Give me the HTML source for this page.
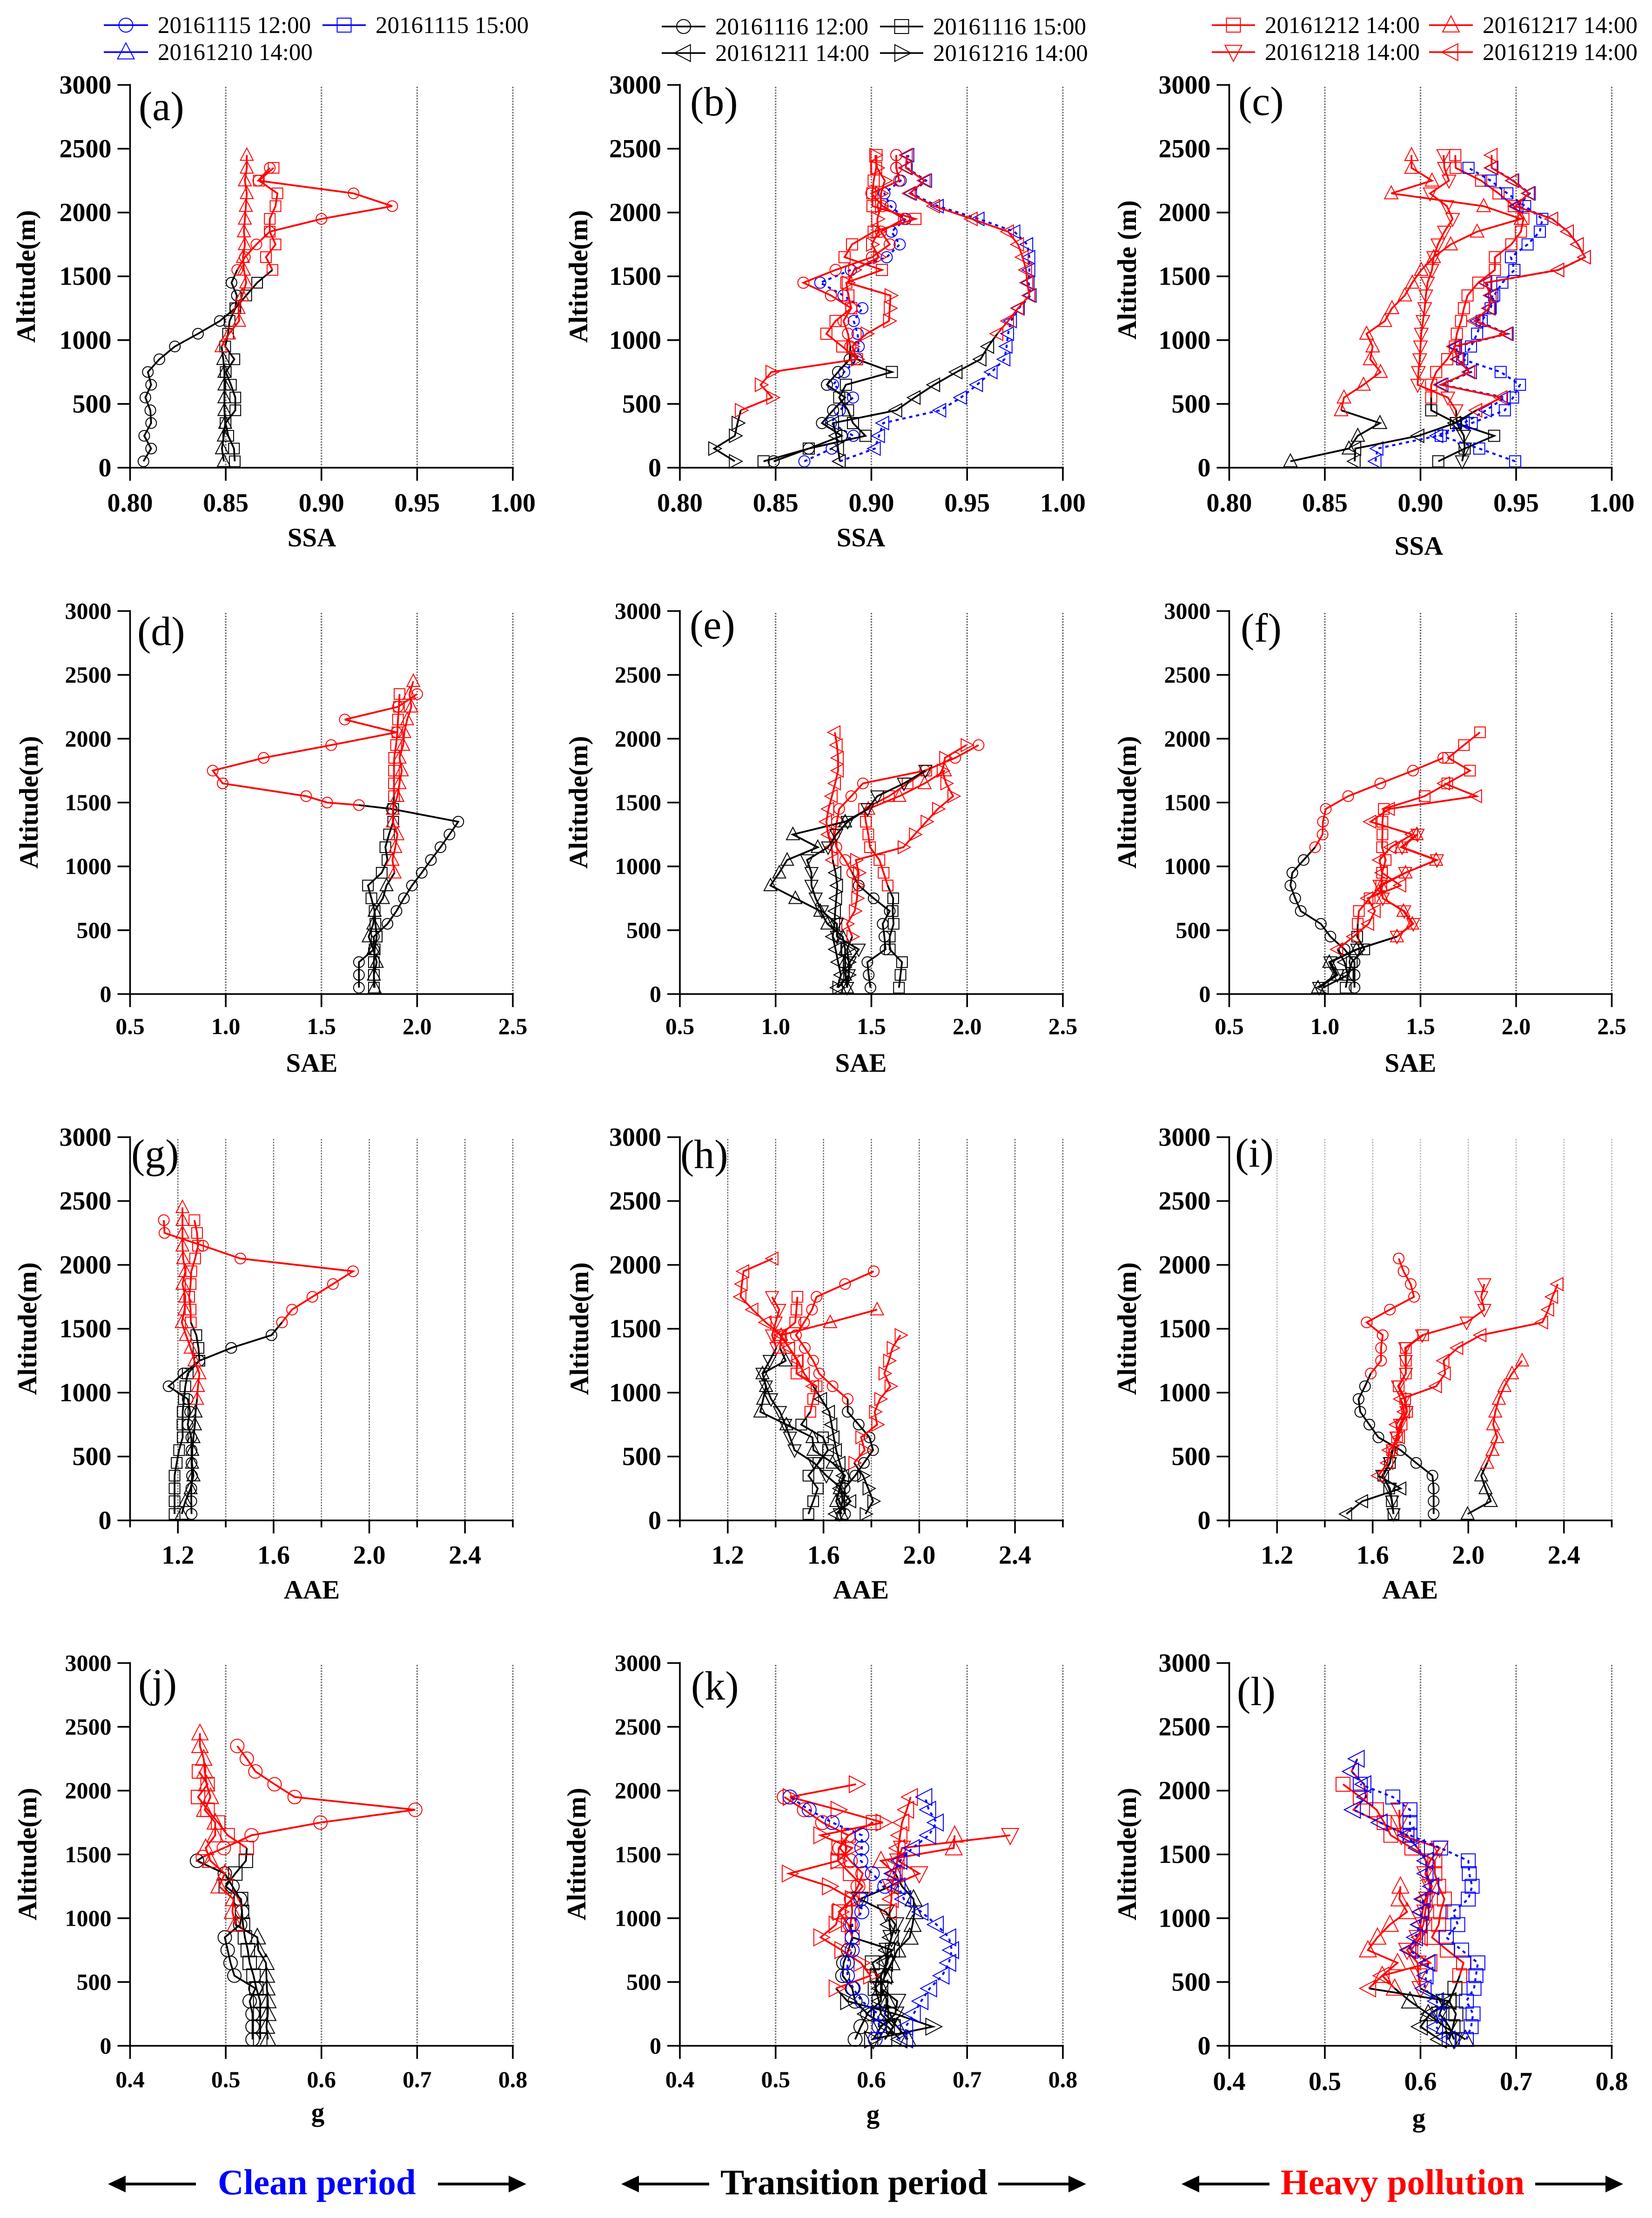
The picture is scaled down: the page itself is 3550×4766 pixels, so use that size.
<!DOCTYPE html>
<html lang="en">
<head>
<meta charset="utf-8">
<title>Vertical profiles of SSA, SAE, AAE and g</title>
<style>
html,body{margin:0;padding:0;background:#fff}
svg{display:block}
text{font-family:"Liberation Serif",serif}
.bold{font-weight:bold}
.leg{font-size:51px;fill:#000}
.ptitle{font-size:88px;fill:#000}
.atitle{font-size:57px;font-weight:bold;fill:#000}
.period{font-size:77px;font-weight:bold}
</style>
</head>
<body>
<svg id="figure" xmlns="http://www.w3.org/2000/svg" width="3550" height="4766" viewBox="0 0 3550 4766">
<rect x="0" y="0" width="3550" height="4766" fill="#fff"/>
<g id="plots"></g>

<g>
<text class="leg" x="339" y="71">20161115 12:00</text>
<text class="leg" x="807" y="71">20161115 15:00</text>
<text class="leg" x="339" y="129">20161210 14:00</text>
</g>
<g>
<text class="leg" x="1537" y="74">20161116 12:00</text>
<text class="leg" x="2005" y="74">20161116 15:00</text>
<text class="leg" x="1537" y="131">20161211 14:00</text>
<text class="leg" x="2005" y="131">20161216 14:00</text>
</g>
<g>
<text class="leg" x="2718" y="71">20161212 14:00</text>
<text class="leg" x="3186" y="71">20161217 14:00</text>
<text class="leg" x="2718" y="129">20161218 14:00</text>
<text class="leg" x="3186" y="129">20161219 14:00</text>
</g>

<g>
<text class="ptitle" x="298" y="258">(a)</text>
<text class="ptitle" x="1483" y="248">(b)</text>
<text class="ptitle" x="2661" y="247">(c)</text>
<text class="ptitle" x="295" y="1386">(d)</text>
<text class="ptitle" x="1482" y="1372">(e)</text>
<text class="ptitle" x="2666" y="1379">(f)</text>
<text class="ptitle" x="282" y="2509">(g)</text>
<text class="ptitle" x="1462" y="2510">(h)</text>
<text class="ptitle" x="2654" y="2507">(i)</text>
<text class="ptitle" x="297" y="3647">(j)</text>
<text class="ptitle" x="1485" y="3652">(k)</text>
<text class="ptitle" x="2658" y="3664">(l)</text>
</g>

<g>
<text class="atitle" text-anchor="middle" x="670" y="1174">SSA</text>
<text class="atitle" text-anchor="middle" x="1850" y="1174">SSA</text>
<text class="atitle" text-anchor="middle" x="3049" y="1192">SSA</text>
<text class="atitle" text-anchor="middle" x="670" y="2303">SAE</text>
<text class="atitle" text-anchor="middle" x="1850" y="2303">SAE</text>
<text class="atitle" text-anchor="middle" x="3031" y="2303">SAE</text>
<text class="atitle" text-anchor="middle" x="670" y="3435">AAE</text>
<text class="atitle" text-anchor="middle" x="1850" y="3435">AAE</text>
<text class="atitle" text-anchor="middle" x="3030" y="3435">AAE</text>
<text class="atitle" text-anchor="middle" x="683" y="4558">g</text>
<text class="atitle" text-anchor="middle" x="1876" y="4562">g</text>
<text class="atitle" text-anchor="middle" x="3049" y="4570">g</text>
</g>

<g>
<text class="atitle" text-anchor="middle" transform="translate(75 594) rotate(-90)">Altitude(m)</text>
<text class="atitle" text-anchor="middle" transform="translate(1262 594) rotate(-90)">Altitude(m)</text>
<text class="atitle" text-anchor="middle" transform="translate(2441 580) rotate(-90)">Altitude (m)</text>
<text class="atitle" text-anchor="middle" transform="translate(81 1724) rotate(-90)">Altitude(m)</text>
<text class="atitle" text-anchor="middle" transform="translate(1262 1724) rotate(-90)">Altitude(m)</text>
<text class="atitle" text-anchor="middle" transform="translate(2441 1724) rotate(-90)">Altitude(m)</text>
<text class="atitle" text-anchor="middle" transform="translate(78 2855) rotate(-90)">Altitude(m)</text>
<text class="atitle" text-anchor="middle" transform="translate(1264 2855) rotate(-90)">Altitude(m)</text>
<text class="atitle" text-anchor="middle" transform="translate(2441 2855) rotate(-90)">Altitude(m)</text>
<text class="atitle" text-anchor="middle" transform="translate(78 3984) rotate(-90)">Altitude(m)</text>
<text class="atitle" text-anchor="middle" transform="translate(1258 3984) rotate(-90)">Altitude(m)</text>
<text class="atitle" text-anchor="middle" transform="translate(2441 3984) rotate(-90)">Altitude(m)</text>
</g>

<g>
<text class="period" x="468" y="4715" fill="#0000ff">Clean period</text>
<path d="M421 4693H270" stroke="#000" stroke-width="6"/>
<path d="M232 4693L270 4675V4711Z" fill="#000"/>
<path d="M941 4693H1093" stroke="#000" stroke-width="6"/>
<path d="M1131 4693L1093 4675V4711Z" fill="#000"/>
</g>
<g>
<text class="period" x="1548" y="4715" fill="#000">Transition period</text>
<path d="M1524 4693H1373" stroke="#000" stroke-width="6"/>
<path d="M1335 4693L1373 4675V4711Z" fill="#000"/>
<path d="M2145 4693H2296" stroke="#000" stroke-width="6"/>
<path d="M2334 4693L2296 4675V4711Z" fill="#000"/>
</g>
<g>
<text class="period" x="2752" y="4715" fill="#ff0000">Heavy pollution</text>
<path d="M2728 4693H2577" stroke="#000" stroke-width="6"/>
<path d="M2539 4693L2577 4675V4711Z" fill="#000"/>
<path d="M3299 4693H3450" stroke="#000" stroke-width="6"/>
<path d="M3488 4693L3450 4675V4711Z" fill="#000"/>
</g>
<g id="legend-swatches"></g>
</svg>

<script>
// ---------- shared axis data ----------
const altitudes = [50,150,250,350,450,550,650,750,850,950,1050,1150,1250,1350,1450,1550,1650,1750,1850,1950,2050,2150,2250,2350,2450];
const yTicks = [0,500,1000,1500,2000,2500,3000];
const ssaTicks = [0.80,0.85,0.90,0.95,1.00];
const ssaLabels = ['0.80','0.85','0.90','0.95','1.00'];
const saeTicks = [0.5,1.0,1.5,2.0,2.5];
const saeLabels = ['0.5','1.0','1.5','2.0','2.5'];
const aaeTicks = [1.0,1.2,1.4,1.6,1.8,2.0,2.2,2.4,2.6];
const aaeLabels = ['','1.2','','1.6','','2.0','','2.4',''];
const gTicks = [0.4,0.5,0.6,0.7,0.8];
const gLabels = ['0.4','0.5','0.6','0.7','0.8'];

// ---------- panel a: SSA clean ----------
const aCircle = [.807,.811,.8074,.811,.8106,.808,.811,.8093,.8153,.8234,.8355,.8469,.855,.8558,.853,.856,.86,.866,.873,.9,.937,.9168,.867,.873];
const aSquare = [.8547,.8543,.8513,.8499,.855,.855,.8527,.85,.8545,.8497,.8512,.852,.855,.8607,.8664,.8744,.871,.876,.873,.873,.876,.877,.8673,.875];
const aUp = [.849,.848,.849,.8497,.8493,.8493,.8493,.8493,.8487,.8478,.8517,.857,.8567,.8586,.8607,.8595,.859,.86,.8595,.86,.8605,.861,.86,.861,.861];
// ---------- panel b: SSA transition ----------
const bCircle = [.849,.8673,.8845,.8742,.88,.8863,.8768,.8826,.8887,.889,.8878,.8854,.8895,.8789,.8645,.8813,.9003,.9096,.905,.917,.9059,.9,.9145,.913,.913];
const bCircleBlue = [.865,.8793,.8906,.8789,.8835,.8904,.88,.8858,.8925,.8934,.8928,.8908,.8953,.8854,.8733,.8893,.908,.9148,.9105,.918,.91,.9068,.9153,.913,.913];
const bSquare = [.8437,.8673,.8969,.8904,.8878,.8832,.8867,.9107,.8925,.8848,.8765,.8813,.8895,.888,.8869,.9055,.886,.8899,.9012,.923,.9006,.9005,.9012,.9025,.9027];
const bLeft = [.8835,.8826,.8817,.88,.913,.9226,.9328,.9445,.957,.961,.9658,.9714,.9766,.9825,.9814,.9808,.979,.9766,.9714,.9524,.9328,.92,.9278,.918,.9185];
const bLeftBlue = [.8835,.9018,.904,.9062,.936,.9468,.9552,.9628,.9695,.9706,.9714,.9729,.977,.9832,.9821,.9825,.9825,.9814,.9747,.956,.9347,.9207,.9286,.9185,.9193];
const bRight = [.8287,.8179,.8287,.8301,.8318,.8482,.8422,.8478,.8925,.89,.8975,.9092,.9096,.91,.8876,.891,.904,.9003,.9036,.9031,.905,.905,.907,.903,.902];
// ---------- panel c: SSA heavy ----------
const cSquare = [.9093,.9231,.9385,.9186,.9056,.9056,.9056,.9082,.914,.918,.919,.9212,.9227,.9246,.9302,.9389,.9389,.9475,.9525,.9538,.9488,.9408,.9317,.9184,.9182];
const cSquareBlue = [.9495,.9307,.9106,.9268,.9441,.9484,.952,.9419,.9218,.9264,.9296,.932,.9367,.9385,.9428,.9491,.9473,.956,.9624,.9637,.9547,.9454,.9367,.9251];
const cUp = [.832,.8626,.8672,.8788,.8585,.86,.8702,.8791,.8737,.875,.8718,.8814,.8851,.8918,.8957,.9004,.9069,.9158,.9296,.9525,.933,.8847,.906,.8953,.8953];
const cDown = [.9218,.9231,.9227,.919,.9186,.9143,.8985,.8989,.8996,.9,.9004,.9013,.9022,.9028,.9037,.906,.9069,.9091,.9125,.9168,.9138,.905,.9149,.9125,.9121];
const cLeft = [.8656,.8659,.8989,.9181,.9292,.9423,.9106,.9255,.9194,.9175,.9451,.9283,.9358,.9367,.9339,.9721,.986,.9823,.9771,.9689,.9497,.9566,.9482,.9372,.9372];
const cLeftBlue = [.8765,.8775,.9088,.9227,.9343,.9441,.9115,.9264,.92,.9186,.9456,.9298,.9363,.9376,.9344,.9721,.986,.9823,.9771,.9689,.9507,.9571,.9485,.9376];
// ---------- panel d: SAE clean ----------
const dCircle = [1.696,1.696,1.696,1.774,1.774,1.845,1.892,1.931,1.973,2.024,2.072,2.122,2.169,2.215,1.867,1.696,1.53,1.42,.984,.932,1.198,1.551,1.892,1.622,1.9,2.0];
const dCircleAlt = [50,150,250,350,450,550,650,750,850,950,1050,1150,1250,1350,1450,1480,1500,1550,1650,1750,1850,1950,2050,2150,2250,2350];
const dSquare = [1.774,1.774,1.774,1.778,1.789,1.782,1.778,1.761,1.743,1.815,1.845,1.834,1.853,1.875,1.875,1.879,1.879,1.879,1.88,1.89,1.897,1.9,1.905,1.908];
const dUp = [1.778,1.774,1.789,1.771,1.747,1.771,1.778,1.821,1.84,1.882,1.871,1.886,1.897,1.873,1.873,1.897,1.908,1.92,1.908,1.927,1.933,1.948,1.97,1.96,1.98];
// ---------- panel e: SAE transition ----------
const eCircle = [1.495,1.486,1.479,1.574,1.568,1.559,1.596,1.512,1.434,1.40,1.363,1.317,1.307,1.32,1.332,1.395,1.456,1.78,1.938,2.06];
const eSquare = [1.644,1.652,1.66,1.596,1.596,1.616,1.611,1.614,1.585,1.564,1.542,1.493,1.484,1.471,1.462,1.592,1.689,1.787];
const eUp = [1.373,1.363,1.363,1.363,1.35,1.27,1.233,1.103,.973,1.019,1.06,1.22,1.09,1.363,1.484,1.646,1.778,1.884];
const eDown = [1.373,1.382,1.387,1.434,1.32,1.32,1.242,1.209,1.187,1.187,1.164,1.274,1.317,1.376,1.48,1.531,1.67,1.782];
const eLeft = [1.322,1.341,1.326,1.313,1.298,1.307,1.311,1.317,1.322,1.313,1.298,1.293,1.274,1.265,1.276,1.294,1.311,1.326,1.326,1.32,1.309];
const eRight = [1.326,1.382,1.382,1.373,1.40,1.373,1.413,1.425,1.428,1.434,1.419,1.667,1.726,1.787,1.847,1.927,1.89,1.871,1.884,1.996];
// ---------- panel f: SAE heavy ----------
const fCircle = [1.155,1.155,1.155,1.103,1.029,.979,.874,.845,.82,.83,.889,.949,.988,.99,1.005,1.122,1.29,1.461,1.619];
const fSquare = [1.109,1.122,1.141,1.206,1.169,1.172,1.178,1.234,1.295,1.299,1.318,1.299,1.301,1.301,1.308,1.522,1.64,1.759,1.645,1.727,1.811];
const fUp = [.964,1.057,1.023,1.165,1.377,1.457,1.411,1.303,1.295,1.422,1.582,1.398,1.48];
const fDown = [.97,1.066,1.029,1.169,1.377,1.462,1.415,1.303,1.286,1.42,1.586,1.404,1.485];
const fLeft = [.99,1.12,1.103,1.066,1.15,1.228,1.262,1.224,1.396,1.299,1.286,1.345,1.457,1.239,1.336,1.792,1.625];
// ---------- panel g: AAE clean ----------
const gCircle = [1.257,1.256,1.256,1.259,1.257,1.257,1.256,1.241,1.251,1.241,1.161,1.223,1.29,1.423,1.591,1.635,1.677,1.762,1.848,1.932,1.461,1.305,1.144,1.141];
const gSquare = [1.186,1.186,1.186,1.186,1.195,1.205,1.22,1.219,1.22,1.225,1.231,1.241,1.29,1.286,1.277,1.254,1.253,1.247,1.253,1.256,1.272,1.284,1.28,1.269];
const gUp = [1.216,1.231,1.253,1.265,1.259,1.26,1.265,1.271,1.274,1.28,1.284,1.29,1.269,1.253,1.234,1.216,1.228,1.231,1.219,1.231,1.222,1.219,1.219,1.219,1.219];
// ---------- panel h: AAE transition ----------
const hCircle = [1.69,1.686,1.688,1.732,1.769,1.807,1.792,1.747,1.701,1.701,1.638,1.582,1.557,1.522,1.485,1.519,1.552,1.571,1.69,1.81];
const hSquare = [1.537,1.557,1.576,1.537,1.579,1.619,1.598,1.507,1.545,1.557,1.571,1.487,1.49,1.457,1.418,1.482,1.487,1.491];
const hUp = [1.676,1.653,1.668,1.69,1.638,1.558,1.554,1.445,1.336,1.348,1.36,1.345,1.442,1.418,1.423,1.628,1.824];
const hDown = [1.668,1.679,1.676,1.612,1.561,1.479,1.46,1.44,1.418,1.381,1.359,1.345,1.375,1.403,1.385,1.4,1.415,1.385];
const hLeft = [1.65,1.713,1.668,1.683,1.668,1.653,1.643,1.634,1.624,1.591,1.557,1.519,1.493,1.457,1.423,1.359,1.304,1.254,1.259,1.266,1.388];
const hRight = [1.775,1.807,1.787,1.765,1.728,1.772,1.757,1.824,1.814,1.836,1.879,1.854,1.873,1.888,1.921];
// ---------- panel i: AAE heavy ----------
const iCircle = [1.855,1.855,1.855,1.85,1.782,1.717,1.624,1.586,1.548,1.541,1.568,1.592,1.635,1.635,1.642,1.575,1.672,1.773,1.759,1.729,1.709];
const iSquare = [1.687,1.68,1.669,1.644,1.672,1.681,1.702,1.721,1.744,1.736,1.709,1.739,1.739,1.739,1.811];
const iUp = [1.997,2.094,2.072,2.054,2.079,2.101,2.121,2.104,2.113,2.128,2.151,2.183,2.225];
const iDown = [1.687,1.681,1.672,1.64,1.672,1.684,1.699,1.714,1.741,1.733,1.706,1.739,1.738,1.736,1.807,1.993,2.067,2.054,2.067];
const iLeft = [1.49,1.557,1.717,1.624,1.662,1.669,1.711,1.699,1.732,1.717,1.866,1.903,1.897,1.955,2.052,2.31,2.335,2.352,2.374];
// ---------- panel j: g clean ----------
const jCircle = [.528,.528,.528,.525,.531,.509,.505,.502,.499,.515,.517,.515,.507,.499,.47,.476,.498,.527,.599,.698,.572,.551,.531,.522,.512];
const jCircleAlt = [50,150,250,350,450,550,650,750,850,950,1050,1150,1250,1350,1450,1480,1550,1650,1750,1850,1950,2050,2150,2250,2350];
const jSquare = [.536,.536,.536,.536,.532,.529,.525,.523,.52,.518,.517,.516,.5,.51,.521,.522,.502,.492,.481,.471,.481,.472];
const jUp = [.544,.5425,.544,.544,.543,.5425,.542,.534,.533,.51,.507,.508,.493,.499,.484,.479,.489,.489,.478,.484,.48,.478,.477,.473,.473];
// ---------- panel k: g transition ----------
const kCircle = [.583,.589,.596,.583,.58,.57,.571,.576,.58,.578,.58,.579,.586,.591,.578,.567,.576,.549,.53,.509];
const kCircleBlue = [.604,.608,.607,.59,.581,.575,.575,.58,.58,.58,.59,.589,.614,.601,.589,.59,.59,.559,.535,.515];
const kSquare = [.614,.623,.61,.608,.604,.606,.601,.622,.58,.576,.566,.58,.591,.578,.565,.566,.576,.602];
const kUp = [.638,.627,.614,.617,.61,.614,.621,.627,.64,.643,.645,.644,.632,.625,.61,.686,.687];
const kDown = [.602,.61,.625,.627,.61,.61,.617,.617,.621,.625,.615,.588,.62,.65,.628,.632,.745];
const kLeft = [.63,.617,.595,.61,.61,.614,.615,.617,.621,.619,.619,.621,.621,.625,.627,.628,.63,.632,.637,.641];
const kLeftBlue = [.636,.636,.644,.652,.661,.674,.681,.684,.681,.668,.652,.634,.628,.623,.63,.643,.66,.668,.66,.656];
const kRight = [.6,.664,.625,.575,.563,.599,.589,.569,.547,.563,.567,.58,.556,.514,.565,.58,.547,.612,.565,.515,.584];
// ---------- panel l: g heavy ----------
const lSquare = [.63,.634,.637,.63,.636,.641,.645,.628,.612,.619,.621,.625,.619,.615,.615,.591,.569,.562,.554,.537,.519];
const lSquareBlue = [.648,.653,.655,.648,.656,.658,.66,.643,.627,.639,.634,.65,.654,.651,.65,.621,.589,.589,.589,.571,.537];
const lUp = [.647,.625,.608,.589,.573,.56,.576,.545,.555,.568,.586,.578,.579];
const lDown = [.635,.63,.62,.625,.6,.598,.597,.586,.597,.603,.605,.607,.61,.605,.61,.62,.58,.578,.578];
const lLeft = [.62,.6,.61,.63,.546,.56,.61,.59,.6,.6,.602,.605,.612,.606,.606,.597,.586,.558,.53,.543,.541,.528,.534];
const lLeftBlue = [.629,.616,.62,.617,.604,.606,.608,.588,.595,.599,.601,.603,.612,.606,.606,.597,.586,.558,.53,.543,.541,.528,.534];

// ---------- drawing ----------
const NS = 'http://www.w3.org/2000/svg';
const BLACK = '#000000', RED = '#ff0000', BLUE = '#0000ff';
const COLS = [{l:279.5,r:1102},{l:1461,r:2284},{l:2641.5,r:3463.5}];
const ROWS = [{t:182.5,b:1005},{t:1313,b:2136},{t:2443.5,b:3267},{t:3573.5,b:4396}];

function mk(tag, parent, attrs, txt){
  const n = document.createElementNS(NS, tag);
  for (const k in attrs) n.setAttribute(k, attrs[k]);
  if (txt !== undefined) n.textContent = txt;
  parent.appendChild(n);
  return n;
}

function markerEl(kind, parent, cx, cy, s, color){
  const base = {fill:'none', stroke:color, 'stroke-width':2};
  if (kind === 'circle') return mk('circle', parent, Object.assign({cx:cx, cy:cy, r:s}, base));
  if (kind === 'square') return mk('rect', parent, Object.assign({x:cx-s, y:cy-s, width:2*s, height:2*s}, base));
  const w = s*1.2, h = s*1.15;
  let p;
  if (kind === 'up') p = [[cx,cy-h*1.15],[cx-w,cy+h*0.85],[cx+w,cy+h*0.85]];
  if (kind === 'down') p = [[cx,cy+h*1.15],[cx-w,cy-h*0.85],[cx+w,cy-h*0.85]];
  if (kind === 'left') p = [[cx-h*1.15,cy],[cx+h*0.85,cy-w],[cx+h*0.85,cy+w]];
  if (kind === 'right') p = [[cx+h*1.15,cy],[cx-h*0.85,cy-w],[cx-h*0.85,cy+w]];
  return mk('polygon', parent, Object.assign({points:p.map(q=>q.join(',')).join(' ')}, base));
}

// series: values, kind, break altitude (points at or below use `low`, above use `high`), dotted flag, optional altitudes
const PANELS = [
 {id:'a',c:0,r:0,dom:[.8,1],ticks:ssaTicks,labels:ssaLabels,fs:56,lab:1099,ms:11.5,series:[
  {n:'circle',v:aCircle,k:'circle',br:1450},{n:'square',v:aSquare,k:'square',br:1450},{n:'triangle',v:aUp,k:'up',br:850}]},
 {id:'b',c:1,r:0,dom:[.8,1],ticks:ssaTicks,labels:ssaLabels,fs:56,lab:1099,ms:12,series:[
  {n:'circle-blue',v:bCircleBlue,k:'circle',all:BLUE,dot:true},{n:'left-blue',v:bLeftBlue,k:'left',all:BLUE,dot:true},
  {n:'circle',v:bCircle,k:'circle',br:850},{n:'square',v:bSquare,k:'square',br:750},{n:'left',v:bLeft,k:'left',br:950},{n:'right',v:bRight,k:'right',br:350}]},
 {id:'c',c:2,r:0,dom:[.8,1],ticks:ssaTicks,labels:ssaLabels,fs:56,lab:1099,ms:12,series:[
  {n:'square',v:cSquare,k:'square',br:450},{n:'up',v:cUp,k:'up',br:350},{n:'down',v:cDown,k:'down',br:350},
  {n:'square-blue',v:cSquareBlue,k:'square',all:BLUE,dot:true},{n:'left-blue',v:cLeftBlue,k:'left',all:BLUE,dot:true},
  {n:'left',v:cLeft,k:'left',br:350}]},
 {id:'d',c:0,r:1,dom:[.5,2.5],ticks:saeTicks,labels:saeLabels,fs:50,lab:2222,ms:11.5,series:[
  {n:'circle',v:dCircle,alt:dCircleAlt,k:'circle',br:1450},{n:'square',v:dSquare,k:'square',br:1450},{n:'triangle',v:dUp,k:'up',br:850}]},
 {id:'e',c:1,r:1,dom:[.5,2.5],ticks:saeTicks,labels:saeLabels,fs:50,lab:2222,ms:11.5,series:[
  {n:'circle',v:eCircle,k:'circle',br:850},{n:'square',v:eSquare,k:'square',br:750},{n:'up',v:eUp,k:'up',br:1350},
  {n:'left',v:eLeft,k:'left',br:950},{n:'right',v:eRight,k:'right',br:350},{n:'down',v:eDown,k:'down',br:3000}]},
 {id:'f',c:2,r:1,dom:[.5,2.5],ticks:saeTicks,labels:saeLabels,fs:50,lab:2222,ms:11.5,series:[
  {n:'circle',v:fCircle,k:'circle',br:1050},{n:'square',v:fSquare,k:'square',br:450},{n:'up',v:fUp,k:'up',br:350},
  {n:'down',v:fDown,k:'down',br:350},{n:'left',v:fLeft,k:'left',br:250}]},
 {id:'g',c:0,r:2,dom:[1,2.6],ticks:aaeTicks,labels:aaeLabels,fs:56,lab:3360,ms:11.5,minor:true,series:[
  {n:'circle',v:gCircle,k:'circle',br:1450},{n:'square',v:gSquare,k:'square',br:1450},{n:'triangle',v:gUp,k:'up',br:850}]},
 {id:'h',c:1,r:2,dom:[1,2.6],ticks:aaeTicks,labels:aaeLabels,fs:56,lab:3360,ms:11.5,minor:true,series:[
  {n:'circle',v:hCircle,k:'circle',br:850},{n:'square',v:hSquare,k:'square',br:750},{n:'up',v:hUp,k:'up',br:1250},
  {n:'down',v:hDown,k:'down',br:1250},{n:'left',v:hLeft,k:'left',br:950},{n:'right',v:hRight,k:'right',br:350}]},
 {id:'i',c:2,r:2,dom:[1,2.6],ticks:aaeTicks,labels:aaeLabels,fs:56,lab:3360,ms:11.5,minor:true,light:true,series:[
  {n:'circle',v:iCircle,k:'circle',br:1050},{n:'square',v:iSquare,k:'square',br:450},{n:'up',v:iUp,k:'up',br:350},
  {n:'down',v:iDown,k:'down',br:450},{n:'left',v:iLeft,k:'left',br:250}]},
 {id:'j',c:0,r:3,dom:[.4,.8],ticks:gTicks,labels:gLabels,fs:50,lab:4485,ms:14.5,series:[
  {n:'circle',v:jCircle,alt:jCircleAlt,k:'circle',br:1450},{n:'square',v:jSquare,k:'square',br:1450},{n:'triangle',v:jUp,k:'up',br:850}]},
 {id:'k',c:1,r:3,dom:[.4,.8],ticks:gTicks,labels:gLabels,fs:50,lab:4485,ms:15,series:[
  {n:'circle',v:kCircle,k:'circle',br:850},{n:'square',v:kSquare,k:'square',br:750},{n:'up',v:kUp,k:'up',br:1250},
  {n:'down',v:kDown,k:'down',br:1150},{n:'left',v:kLeft,k:'left',br:950},{n:'right',v:kRight,k:'right',br:350},
  {n:'circle-blue',v:kCircleBlue,k:'circle',all:BLUE,dot:true},{n:'left-blue',v:kLeftBlue,k:'left',all:BLUE,dot:true}]},
 {id:'l',c:2,r:3,dom:[.4,.8],ticks:gTicks,labels:gLabels,fs:56,lab:4491,ms:15,series:[
  {n:'square',v:lSquare,k:'square',br:450},{n:'up',v:lUp,k:'up',br:350},{n:'down',v:lDown,k:'down',br:350},{n:'left',v:lLeft,k:'left',br:350},
  {n:'square-blue',v:lSquareBlue,k:'square',all:BLUE,dot:true},{n:'left-blue',v:lLeftBlue,k:'left',all:BLUE,dot:true}]}
];

const root = document.getElementById('plots');

function polyline(parent, pts, color, dotted){
  const attrs = {points:pts.map(q=>q.join(',')).join(' '), fill:'none', stroke:color, 'stroke-width':dotted?4.2:3.8, 'stroke-linejoin':'miter'};
  if (dotted) attrs['stroke-dasharray'] = '7 8';
  return mk('polyline', parent, attrs);
}

PANELS.forEach(function(p){
  const col = COLS[p.c], row = ROWS[p.r];
  const sx = function(v){ return col.l + (v - p.dom[0]) / (p.dom[1] - p.dom[0]) * (col.r - col.l); };
  const sy = function(a){ return row.b - a / 3000 * (row.b - row.t); };
  const g = mk('g', root, {});
  
  

  // gridlines
  p.ticks.forEach(function(t, i){
    if (i === 0) return;
    const gl = mk('line', g, {x1:sx(t), x2:sx(t), y1:row.t+4, y2:row.b, stroke:p.light?'#aaaaaa':(p.minor?'#555555':'#666666'), 'stroke-width':p.minor?2.4:3.2, 'stroke-dasharray':'3 3'});
    
    
  });

  // series
  p.series.forEach(function(s){
    const sg = mk('g', g, {});
    
    
    const alts = s.alt || altitudes;
    const pts = s.v.map(function(v, i){ return {x:sx(v), y:sy(alts[i]), a:alts[i]}; });
    if (s.all) {
      polyline(sg, pts.map(q=>[q.x,q.y]), s.all, s.dot);
    } else {
      const lowPts = [], highPts = [];
      pts.forEach(function(q, i){
        if (q.a <= s.br) { lowPts.push([q.x,q.y]); if (i+1 < pts.length && pts[i+1].a > s.br) lowPts.push([pts[i+1].x,pts[i+1].y]); }
        else highPts.push([q.x,q.y]);
      });
      if (lowPts.length) polyline(sg, lowPts, BLACK, false);
      if (highPts.length) polyline(sg, highPts, RED, false);
    }
    pts.forEach(function(q){
      const c = s.all ? s.all : (q.a <= s.br ? BLACK : RED);
      const m = markerEl(s.k, sg, q.x, q.y, p.ms, c);
      
      
    });
  });

  // axes
  const xa = mk('line', g, {x1:col.l-2, x2:col.r+2, y1:row.b, y2:row.b, stroke:'#000', 'stroke-width':3.6});
  
  
  const ya = mk('line', g, {x1:col.l, x2:col.l, y1:row.t-2, y2:row.b+2, stroke:'#000', 'stroke-width':3.6});
  
  

  p.ticks.forEach(function(t, i){
    const lab = p.labels[i];
    const len = (p.minor && lab === '') ? 15 : 28;
    const tk = mk('line', g, {x1:sx(t), x2:sx(t), y1:row.b, y2:row.b+len, stroke:'#000', 'stroke-width':3.6});
    
    
    if (lab !== '') {
      const tx = mk('text', g, {x:sx(t), y:p.lab, 'text-anchor':'middle', 'font-size':p.fs, 'font-weight':'bold', fill:'#000'}, lab);
      
      
    }
  });
  yTicks.forEach(function(t){
    const tk = mk('line', g, {x1:col.l-27, x2:col.l, y1:sy(t), y2:sy(t), stroke:'#000', 'stroke-width':3.6});
    
    
    const tx = mk('text', g, {x:col.l-40, y:sy(t)+p.fs*0.33, 'text-anchor':'end', 'font-size':p.fs, 'font-weight':'bold', fill:'#000'}, String(t));
    
    
  });
});

// legend swatches (line + marker)
const swatchRoot = document.getElementById('legend-swatches');
const SWATCHES = [
 {x1:223,x2:318,y:54,k:'circle',c:BLUE,n:'20161115-1200'},
 {x1:693,x2:786,y:54,k:'square',c:BLUE,n:'20161115-1500'},
 {x1:223,x2:318,y:112,k:'up',c:BLUE,n:'20161210-1400'},
 {x1:1422,x2:1516,y:57,k:'circle',c:BLACK,n:'20161116-1200'},
 {x1:1891,x2:1984,y:57,k:'square',c:BLACK,n:'20161116-1500'},
 {x1:1422,x2:1516,y:114,k:'left',c:BLACK,n:'20161211-1400'},
 {x1:1891,x2:1984,y:114,k:'right',c:BLACK,n:'20161216-1400'},
 {x1:2604,x2:2697,y:54,k:'square',c:RED,n:'20161212-1400'},
 {x1:3071,x2:3165,y:54,k:'up',c:RED,n:'20161217-1400'},
 {x1:2604,x2:2697,y:112,k:'down',c:RED,n:'20161218-1400'},
 {x1:3071,x2:3165,y:112,k:'left',c:RED,n:'20161219-1400'}
];
SWATCHES.forEach(function(s){
  const g = mk('g', swatchRoot, {});
  
  
  mk('line', g, {x1:s.x1, x2:s.x2, y1:s.y, y2:s.y, stroke:s.c, 'stroke-width':3.6});
  markerEl(s.k, g, (s.x1+s.x2)/2, s.y, 15, s.c);
});
</script>
</body>
</html>
